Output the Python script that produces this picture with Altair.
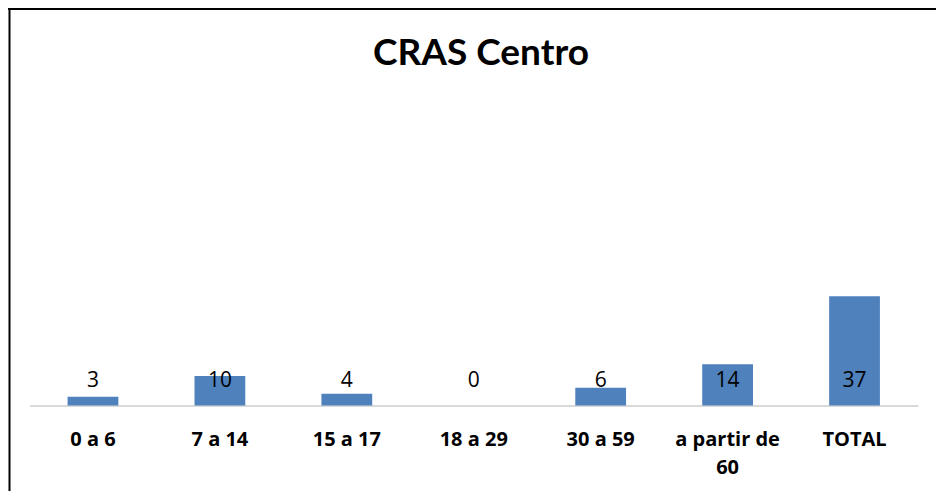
import altair as alt
import pandas as pd

categories = ["0 a 6", "7 a 14", "15 a 17", "18 a 29", "30 a 59", "a partir de 60", "TOTAL"]
values = [3, 10, 4, 0, 6, 14, 37]
title_text = "CRAS Centro"

df = pd.DataFrame({"faixa": categories, "valor": values})

# layout constants (pixels)
W, H = 927, 482
BASE = 396.5          # baseline position within the view
K = 2.95              # pixels per unit
ymin = -(H - BASE) / K
ymax = BASE / K
label_level = (BASE - 378) / K

xscale = alt.Scale(domain=categories, range=[20.5, 909], paddingInner=0.6, paddingOuter=0.3)
yscale = alt.Scale(domain=[ymin, ymax], zero=False, nice=False)

xaxis = alt.Axis(
    title=None, labelAngle=0, ticks=False, tickSize=0, grid=False,
    domainColor="#D9D9D9", domainWidth=2, offset=-(H - BASE),
    labelFont="Open Sans", labelFontWeight="bold", labelFontSize=20, labelColor="#000000",
    labelBaseline="alphabetic", labelPadding=39.5, labelLineHeight=28, labelLimit=300,
    labelExpr="datum.label == 'a partir de 60' ? ['a partir de', '60'] : datum.label",
)
yaxis = alt.Axis(
    title=None, labels=False, ticks=False, tickSize=0, domain=True,
    domainColor="#000000", domainWidth=2, grid=False, orient="left",
)

bars = alt.Chart(df).mark_bar(color="#4F81BD").encode(
    x=alt.X("faixa:N", scale=xscale, axis=xaxis, sort=categories),
    y=alt.Y("valor:Q", scale=yscale, axis=yaxis),
    y2=alt.datum(0),
)

labels = alt.Chart(df).mark_text(
    font="Open Sans", fontSize=21, baseline="alphabetic", color="#000000"
).encode(
    x=alt.X("faixa:N", scale=xscale, sort=categories),
    y=alt.datum(label_level),
    text=alt.Text("valor:Q"),
)

# top edge of the chart frame (decoration only)
frame_top = alt.Chart(pd.DataFrame({"edge": [0]})).mark_rule(
    color="#000000", strokeWidth=2
).encode(
    y=alt.value(0),
    x=alt.value(-1),
    x2=alt.value(W + 1),
)

chart = alt.layer(bars, labels, frame_top).properties(
    width=W, height=H,
    autosize=alt.AutoSizeParams(type="none"),
    padding={"left": 1, "top": 1, "right": 0, "bottom": 0},
    title=alt.TitleParams(
        title_text, orient="top", anchor="middle", frame="group",
        font="Lato", fontSize=37, fontWeight="bold", color="#000000",
        baseline="alphabetic", offset=0, dy=94, dx=8.5,
    ),
).configure_view(stroke=None)

chart.save("out.html", embed_options={"renderer": "svg", "actions": False})
